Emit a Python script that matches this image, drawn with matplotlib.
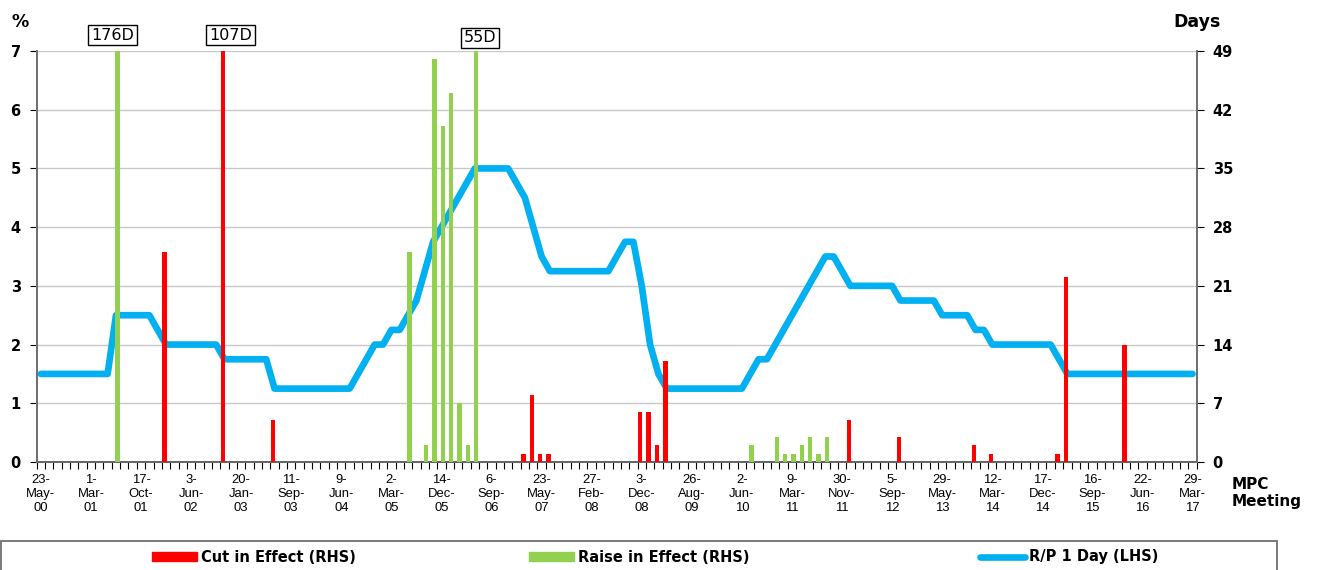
import matplotlib
matplotlib.use("Agg")
import matplotlib.pyplot as plt
from matplotlib.patches import Rectangle, Patch
from matplotlib.lines import Line2D

plt.rcParams['font.family'] = ['DejaVu Sans']
LABEL_FONT = ['Liberation Sans', 'DejaVu Sans']

# ---------------- data ----------------
# R/P 1 Day rate (%) at each MPC meeting (139 meetings, 23-May-00 .. 29-Mar-17)
rp_rate = [
    1.5, 1.5, 1.5, 1.5, 1.5, 1.5, 1.5, 1.5, 1.5,            # 0-8
    2.5, 2.5, 2.5, 2.5, 2.5,                                # 9-13
    2.25,                                                   # 14
    2.0, 2.0, 2.0, 2.0, 2.0, 2.0, 2.0,                      # 15-21
    1.75, 1.75, 1.75, 1.75, 1.75, 1.75,                     # 22-27
    1.25, 1.25, 1.25, 1.25, 1.25, 1.25, 1.25, 1.25, 1.25, 1.25,  # 28-37
    1.5, 1.75, 2.0, 2.0, 2.25, 2.25, 2.5, 2.75,             # 38-45
    3.25, 3.75, 4.0, 4.25, 4.5, 4.75,                       # 46-51
    5.0, 5.0, 5.0, 5.0, 5.0,                                # 52-56
    4.75, 4.5, 4.0, 3.5,                                    # 57-60
    3.25, 3.25, 3.25, 3.25, 3.25, 3.25, 3.25, 3.25,         # 61-68
    3.5, 3.75, 3.75,                                        # 69-71
    3.0, 2.0, 1.5,                                          # 72-74
    1.25, 1.25, 1.25, 1.25, 1.25, 1.25, 1.25, 1.25, 1.25, 1.25,  # 75-84
    1.5, 1.75, 1.75, 2.0, 2.25, 2.5, 2.75, 3.0, 3.25,       # 85-93
    3.5, 3.5, 3.25,                                         # 94-96
    3.0, 3.0, 3.0, 3.0, 3.0, 3.0,                           # 97-102
    2.75, 2.75, 2.75, 2.75, 2.75,                           # 103-107
    2.5, 2.5, 2.5, 2.5,                                     # 108-111
    2.25, 2.25,                                             # 112-113
    2.0, 2.0, 2.0, 2.0, 2.0, 2.0, 2.0, 2.0,                 # 114-121
    1.75,                                                   # 122
    1.5, 1.5, 1.5, 1.5, 1.5, 1.5, 1.5, 1.5,                 # 123-130
    1.5, 1.5, 1.5, 1.5, 1.5, 1.5, 1.5, 1.5,                 # 131-138
]

# Cut in effect (days, RHS): meeting index and number of days
cut_meeting = [15, 22, 28, 58, 59, 60, 61, 72, 73, 74, 75, 97, 103, 112, 114, 122, 123, 130]
cut_days    = [25, 107, 5, 1, 8, 1, 1, 6, 6, 2, 12, 5, 3, 2, 1, 1, 22, 14]

# Raise in effect (days, RHS)
raise_meeting = [9, 44, 46, 47, 48, 49, 50, 51, 52, 85, 88, 89, 90, 91, 92, 93, 94]
raise_days    = [176, 25, 2, 48, 40, 44, 7, 2, 55, 2, 3, 1, 1, 2, 3, 1, 3]

# x tick labels (every 6th meeting)
tick_labels = ["23-\nMay-\n00", "1-\nMar-\n01", "17-\nOct-\n01", "3-\nJun-\n02",
               "20-\nJan-\n03", "11-\nSep-\n03", "9-\nJun-\n04", "2-\nMar-\n05",
               "14-\nDec-\n05", "6-\nSep-\n06", "23-\nMay-\n07", "27-\nFeb-\n08",
               "3-\nDec-\n08", "26-\nAug-\n09", "2-\nJun-\n10", "9-\nMar-\n11",
               "30-\nNov-\n11", "5-\nSep-\n12", "29-\nMay-\n13", "12-\nMar-\n14",
               "17-\nDec-\n14", "16-\nSep-\n15", "22-\nJun-\n16", "29-\nMar-\n17"]
label_step = 6

# ---------------- style ----------------
BLUE = "#00B0F0"
RED = "#FF0000"
GREEN = "#92D050"
GRID = "#C8C8C8"
AXC = "#707070"

W, H = 1318, 570
fig = plt.figure(figsize=(W / 100, H / 100), dpi=100)
ax = fig.add_axes([36.7 / W, 1 - 462 / H, (1196.7 - 36.7) / W, (462 - 51) / H])
ax2 = ax.twinx()

n = len(rp_rate)
xs = list(range(n))

# line (LHS)
ax.plot(xs, rp_rate, color=BLUE, lw=4.8, solid_capstyle='round',
        solid_joinstyle='round', zorder=3)
ax.set_ylim(0, 7)
ax.set_xlim(-0.5, n - 0.5)
ax.set_yticks(range(0, 8))
ax.yaxis.grid(True, color=GRID, lw=1.0)
ax.set_axisbelow(True)

# bars (RHS), clustered offsets
bw = 0.52
off = 0.17
ax2.bar([m - off for m in cut_meeting], cut_days, width=bw, color=RED, zorder=4)
ax2.bar([m + off for m in raise_meeting], raise_days, width=bw, color=GREEN, zorder=4)
ax2.set_ylim(0, 49)
ax2.set_yticks(range(0, 50, 7))

# annotations for clipped bars
for m, d, o in [(mm, dd, -off) for mm, dd in zip(cut_meeting, cut_days)] + \
               [(mm, dd, off) for mm, dd in zip(raise_meeting, raise_days)]:
    if d > 49:
        dy = 11.5 if d > 100 else 9.4
        dx = -3.5 if d > 150 else (5.5 if d > 100 else 2.5)
        ax2.annotate(f"{d}D", xy=(m + o, 49), xycoords='data',
                     xytext=(dx, dy), textcoords='offset points',
                     ha='center', va='center', fontsize=11.5, annotation_clip=False,
                     bbox=dict(boxstyle='square,pad=0.18', fc='white', ec='black', lw=1.0))

# x axis: labels at every 6th meeting, ticks at category boundaries
ax.set_xticks(xs[::label_step])
ax.set_xticklabels(tick_labels, fontsize=9.4, linespacing=1.22, family=LABEL_FONT)
ax.set_xticks([i - 0.5 for i in range(n + 1)], minor=True)
ax.tick_params(axis='x', which='major', length=0, pad=8.5)
ax.tick_params(axis='x', which='minor', length=5, width=0.8, direction='out', color='black')

for a in (ax, ax2):
    for s in a.spines.values():
        s.set_color(AXC)
        s.set_linewidth(1.3)
    a.spines['top'].set_visible(False)

ax.spines['bottom'].set_color('black')
ax.tick_params(axis='y', length=5, width=0.8, color='black', pad=6.5)
ax2.tick_params(axis='y', length=5, width=0.8, color='black', pad=6.5)
for lab in ax.get_yticklabels() + ax2.get_yticklabels():
    lab.set_fontweight('bold')
    lab.set_fontsize(10.5)

# axis titles
fig.text(20 / W, 1 - 22 / H, "%", fontsize=12.5, fontweight='bold', ha='center', va='center')
fig.text(1197 / W, 1 - 22 / H, "Days", fontsize=12.5, fontweight='bold', ha='center', va='center')
fig.text(1232 / W, 1 - 493 / H, "MPC\nMeeting", fontsize=11, fontweight='bold',
         ha='left', va='center', linespacing=1.15)

# legend frame
fig.patches.append(Rectangle((1 / W, -0.2), 1276 / W, (570 - 541) / H + 0.2,
                             transform=fig.transFigure, fill=False,
                             ec=AXC, lw=1.3, zorder=0))

# legend entries
leg_items = [
    (Patch(color=RED), "Cut in Effect (RHS)", 152),
    (Patch(color=GREEN), "Raise in Effect (RHS)", 529),
    (Line2D([0], [0], color=BLUE, lw=4.8, solid_capstyle='round'), "R/P 1 Day (LHS)", 980),
]
for h, txt, xpix in leg_items:
    fig.legend([h], [txt], loc='center left', bbox_to_anchor=(xpix / W, 1 - 557 / H),
               frameon=False, borderpad=0, borderaxespad=0, handlelength=3.1,
               handleheight=0.6, handletextpad=0.25,
               prop=dict(weight='bold', size=10.5))

fig.savefig("out.png", dpi=100)
